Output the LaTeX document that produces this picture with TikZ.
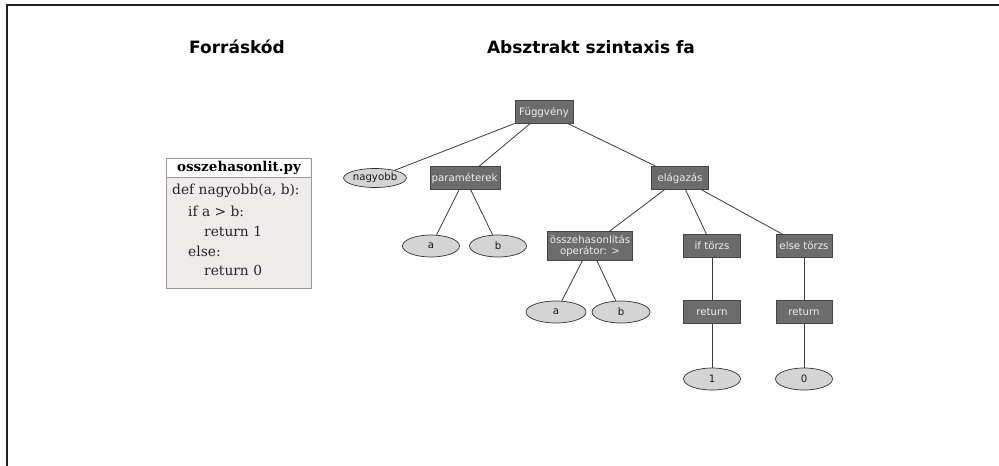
\documentclass[tikz,border=0pt]{standalone}
\usepackage{fontspec}
\usetikzlibrary{shapes.geometric}
\newfontfamily\djsans{DejaVu Sans}
\newfontfamily\djserif{DejaVu Serif}
\definecolor{framec}{HTML}{222222}
\definecolor{boxfill}{HTML}{6C6C6C}
\definecolor{boxdraw}{HTML}{454545}
\definecolor{boxtext}{HTML}{EDEDED}
\definecolor{leaffill}{HTML}{D4D4D4}
\definecolor{leafdraw}{HTML}{333333}
\definecolor{edgec}{HTML}{3A3A3A}
\definecolor{codefill}{HTML}{EFEBEB}
\definecolor{codedraw}{HTML}{9A9A9A}
\tikzset{
  title/.style={font=\djsans\bfseries\fontsize{17}{19}\selectfont, text=black},
  astbox/.style={draw=boxdraw, fill=boxfill, text=boxtext, font=\djsans\fontsize{10.2}{11}\selectfont, minimum height=23pt, inner sep=1.5pt, line width=0.6pt},
  leaf/.style={ellipse, draw=leafdraw, fill=leaffill, text=black!90, font=\djsans\fontsize{10.2}{11}\selectfont, minimum width=57pt, minimum height=22pt, inner sep=0pt, line width=0.7pt},
  edge/.style={draw=edgec, line width=0.8pt},
  codeline/.style={anchor=west, font=\djserif\fontsize{13.8}{15}\selectfont, text=black!85, inner sep=0pt}
}
\begin{document}
\begin{tikzpicture}[x=1pt,y=-1pt]
\useasboundingbox (0,0) rectangle (999,466);
\fill[white] (0,0) rectangle (999,466);
% frame
\draw[framec, line width=2.4pt] (7,466) -- (7,5) -- (999,5);

% titles
\node[title] (t1) at (237,47) {Forráskód};
\node[title] (t2) at (591,47) {Absztrakt szintaxis fa};

% code box
\draw[codedraw, fill=codefill, line width=0.8pt] (166,158) rectangle (311,288);
\fill[white] (167,159) rectangle (310,177);
\draw[codedraw, line width=0.8pt] (166,177) -- (311,177);
\node[font=\djserif\bfseries\fontsize{13.5}{15}\selectfont, text=black] (hdr) at (239,168) {osszehasonlit.py};
\begin{scope}
\clip (167,178) rectangle (310,276);
\node[codeline] (c1) at (172,191) {def nagyobb(a, b):};
\node[codeline] (c2) at (188,211) {if a > b:};
\node[codeline] (c3) at (204,231) {return 1};
\node[codeline] (c4) at (188,251) {else:};
\node[codeline] (c5) at (204,270) {return 0};
\end{scope}

% tree nodes
\node[astbox, minimum width=58pt] (F) at (544,112) {Függvény};
\node[leaf, minimum width=55pt, minimum height=19pt, inner xsep=0pt] (nag) at (375,178) {nagyobb};
\node[astbox, minimum width=70pt] (par) at (465,178) {};
\begin{scope}
\clip (par.south west) rectangle (par.north east);
\node[anchor=west, text=boxtext, font=\djsans\fontsize{10.2}{11}\selectfont, inner sep=0pt] (partxt) at (431.5,178) {paraméterek};
\end{scope}
\node[astbox, minimum width=57pt] (el) at (680,178) {elágazás};

\node[leaf] (a1) at (431,246) {a};
\node[leaf] (b1) at (498,246) {b};
\node[astbox, minimum width=85pt, minimum height=29pt, align=center, inner xsep=0pt, font=\djsans\fontsize{10.2}{11.5}\selectfont] (cmp) at (590,246) {összehasonlítás\\operátor: >};
\node[astbox, minimum width=57pt] (ift) at (712,246) {if törzs};
\node[astbox, minimum width=56pt, inner xsep=0pt] (elt) at (804,246) {else törzs};

\node[leaf, minimum width=60pt] (a2) at (556,312) {a};
\node[leaf, minimum width=58pt] (b2) at (621,312) {b};
\node[astbox, minimum width=57pt] (r1) at (712,312) {return};
\node[astbox, minimum width=56pt] (r2) at (804,312) {return};

\node[leaf] (one) at (712,379) {1};
\node[leaf] (zero) at (804,379) {0};

% edges
\draw[edge] (F) -- (nag);
\draw[edge] (F) -- (par);
\draw[edge] (F) -- (el);
\draw[edge] (par) -- (a1);
\draw[edge] (par) -- (b1);
\draw[edge] (el) -- (cmp);
\draw[edge] (el) -- (ift);
\draw[edge] (el) -- (elt);
\draw[edge] (cmp) -- (a2);
\draw[edge] (cmp) -- (b2);
\draw[edge] (ift) -- (r1);
\draw[edge] (r1) -- (one);
\draw[edge] (elt) -- (r2);
\draw[edge] (r2) -- (zero);
\end{tikzpicture}
\end{document}
